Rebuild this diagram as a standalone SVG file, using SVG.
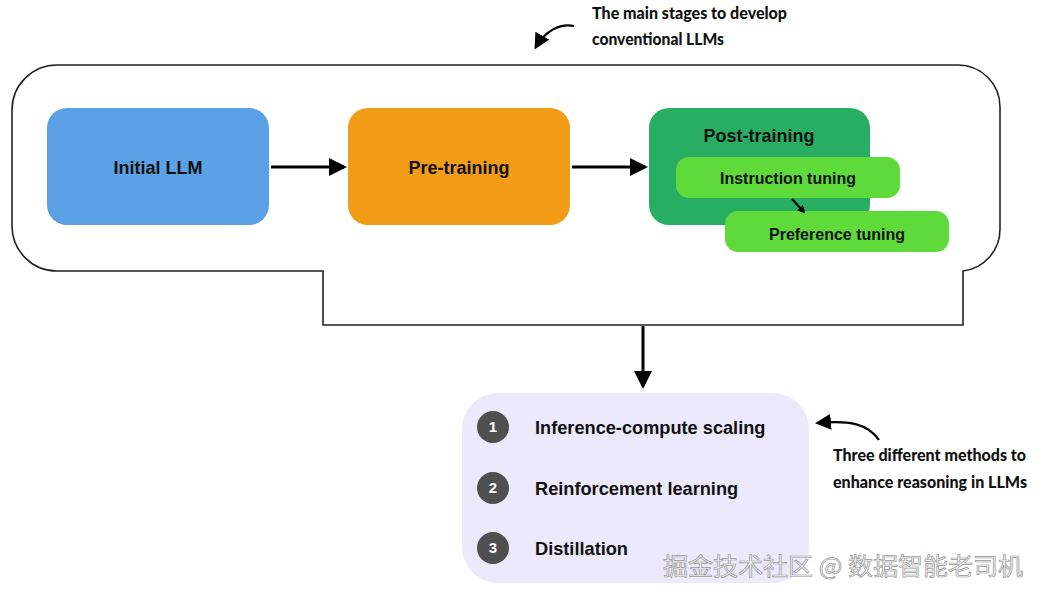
<svg xmlns="http://www.w3.org/2000/svg" width="1042" height="598" viewBox="0 0 1042 598">
<style>
.lbl{font-family:"Liberation Sans",Arial,sans-serif;font-weight:bold;fill:#111;}
.ann{font-family:Lato,"Liberation Sans",sans-serif;font-weight:900;fill:#111;font-size:17px;}
.num{font-family:"Liberation Sans",Arial,sans-serif;font-weight:bold;fill:#fff;font-size:15px;}
.wm{font-family:"Noto Sans CJK SC",sans-serif;font-size:24px;fill:#f2f2f2;stroke:#9a9a9a;stroke-width:0.7;}
.conn{stroke:#000;stroke-width:3;fill:none;}
</style>
<defs>
<marker id="ah" markerWidth="6" markerHeight="6" refX="5" refY="3" orient="auto" markerUnits="strokeWidth">
<path d="M0,0 L6,3 L0,6 z" fill="#000"/>
</marker>
<marker id="ah2" markerWidth="8" markerHeight="8" refX="6" refY="4" orient="auto" markerUnits="userSpaceOnUse">
<path d="M0,0 L8,4 L0,8 z" fill="#000"/>
</marker>
<marker id="ahc" markerWidth="18" markerHeight="16" refX="13" refY="8" orient="auto" markerUnits="userSpaceOnUse">
<path d="M0,0 L16,8 L0,16 z" fill="#000"/>
</marker>
</defs>
<rect width="1042" height="598" fill="#fff"/>

<g id="container">
<path d="M57,65 H958 A42,42 0 0 1 1000,107 V229 A42,42 0 0 1 963,271 V325 H323 V271 H57 A45,45 0 0 1 12,226 V110 A45,45 0 0 1 57,65 Z" fill="none" stroke="#222" stroke-width="1.6"/>
</g>

<g id="initial-llm">
<rect x="47" y="108" width="222" height="117" rx="20" fill="#5AA2E5"/>
<text class="lbl" x="158" y="174" text-anchor="middle" font-size="18">Initial LLM</text>
</g>

<g id="pre-training">
<rect x="348" y="108" width="222" height="117" rx="20" fill="#F29C17"/>
<text class="lbl" x="459" y="174" text-anchor="middle" font-size="18">Pre-training</text>
</g>

<g id="post-training">
<rect x="649" y="108" width="221" height="117" rx="20" fill="#27AE62"/>
<text class="lbl" x="759" y="142" text-anchor="middle" font-size="18">Post-training</text>
</g>

<g id="instruction-tuning">
<rect x="676" y="157" width="224" height="41" rx="13" fill="#5EDA3B"/>
<text class="lbl" x="788" y="184" text-anchor="middle" font-size="16">Instruction tuning</text>
</g>

<g id="preference-tuning">
<rect x="725" y="211" width="224" height="41" rx="13" fill="#5EDA3B"/>
<text class="lbl" x="837" y="240" text-anchor="middle" font-size="16">Preference tuning</text>
</g>

<g id="methods">
<rect x="462" y="393" width="347" height="190" rx="36" fill="#EBE9FB"/>
<circle cx="493" cy="427" r="16" fill="#4F4F4F"/>
<text class="num" x="493" y="432" text-anchor="middle">1</text>
<text class="lbl" x="535" y="434" font-size="18.2">Inference-compute scaling</text>
<circle cx="493" cy="488" r="16" fill="#4F4F4F"/>
<text class="num" x="493" y="493" text-anchor="middle">2</text>
<text class="lbl" x="535" y="495" font-size="18.2">Reinforcement learning</text>
<circle cx="493" cy="548" r="16" fill="#4F4F4F"/>
<text class="num" x="493" y="553" text-anchor="middle">3</text>
<text class="lbl" x="535" y="555" font-size="18.2">Distillation</text>
</g>

<g id="connectors">
<line class="conn" x1="271" y1="167" x2="344" y2="167" marker-end="url(#ah)"/>
<line class="conn" x1="572" y1="167" x2="645" y2="167" marker-end="url(#ah)"/>
<line class="conn" x1="643" y1="326" x2="643" y2="386" marker-end="url(#ah)"/>
<line x1="792" y1="199" x2="804" y2="212" stroke="#000" stroke-width="2" marker-end="url(#ah2)"/>
<path d="M574,26 C560,23 545,31 536,47" fill="none" stroke="#000" stroke-width="2.2" marker-end="url(#ahc)"/>
<path d="M879,440 C868,424 850,420 818,423" fill="none" stroke="#000" stroke-width="2.2" marker-end="url(#ahc)"/>
</g>

<g id="annotations">
<text class="ann" x="592" y="19" textLength="195" lengthAdjust="spacingAndGlyphs">The main stages to develop</text>
<text class="ann" x="592" y="45" textLength="132" lengthAdjust="spacingAndGlyphs">conventional LLMs</text>
<text class="ann" x="833" y="461" textLength="193" lengthAdjust="spacingAndGlyphs">Three different methods to</text>
<text class="ann" x="833" y="488" textLength="194" lengthAdjust="spacingAndGlyphs">enhance reasoning in LLMs</text>
</g>

<text class="wm" x="663" y="575" textLength="360" lengthAdjust="spacingAndGlyphs">掘金技术社区 @ 数据智能老司机</text>
</svg>
